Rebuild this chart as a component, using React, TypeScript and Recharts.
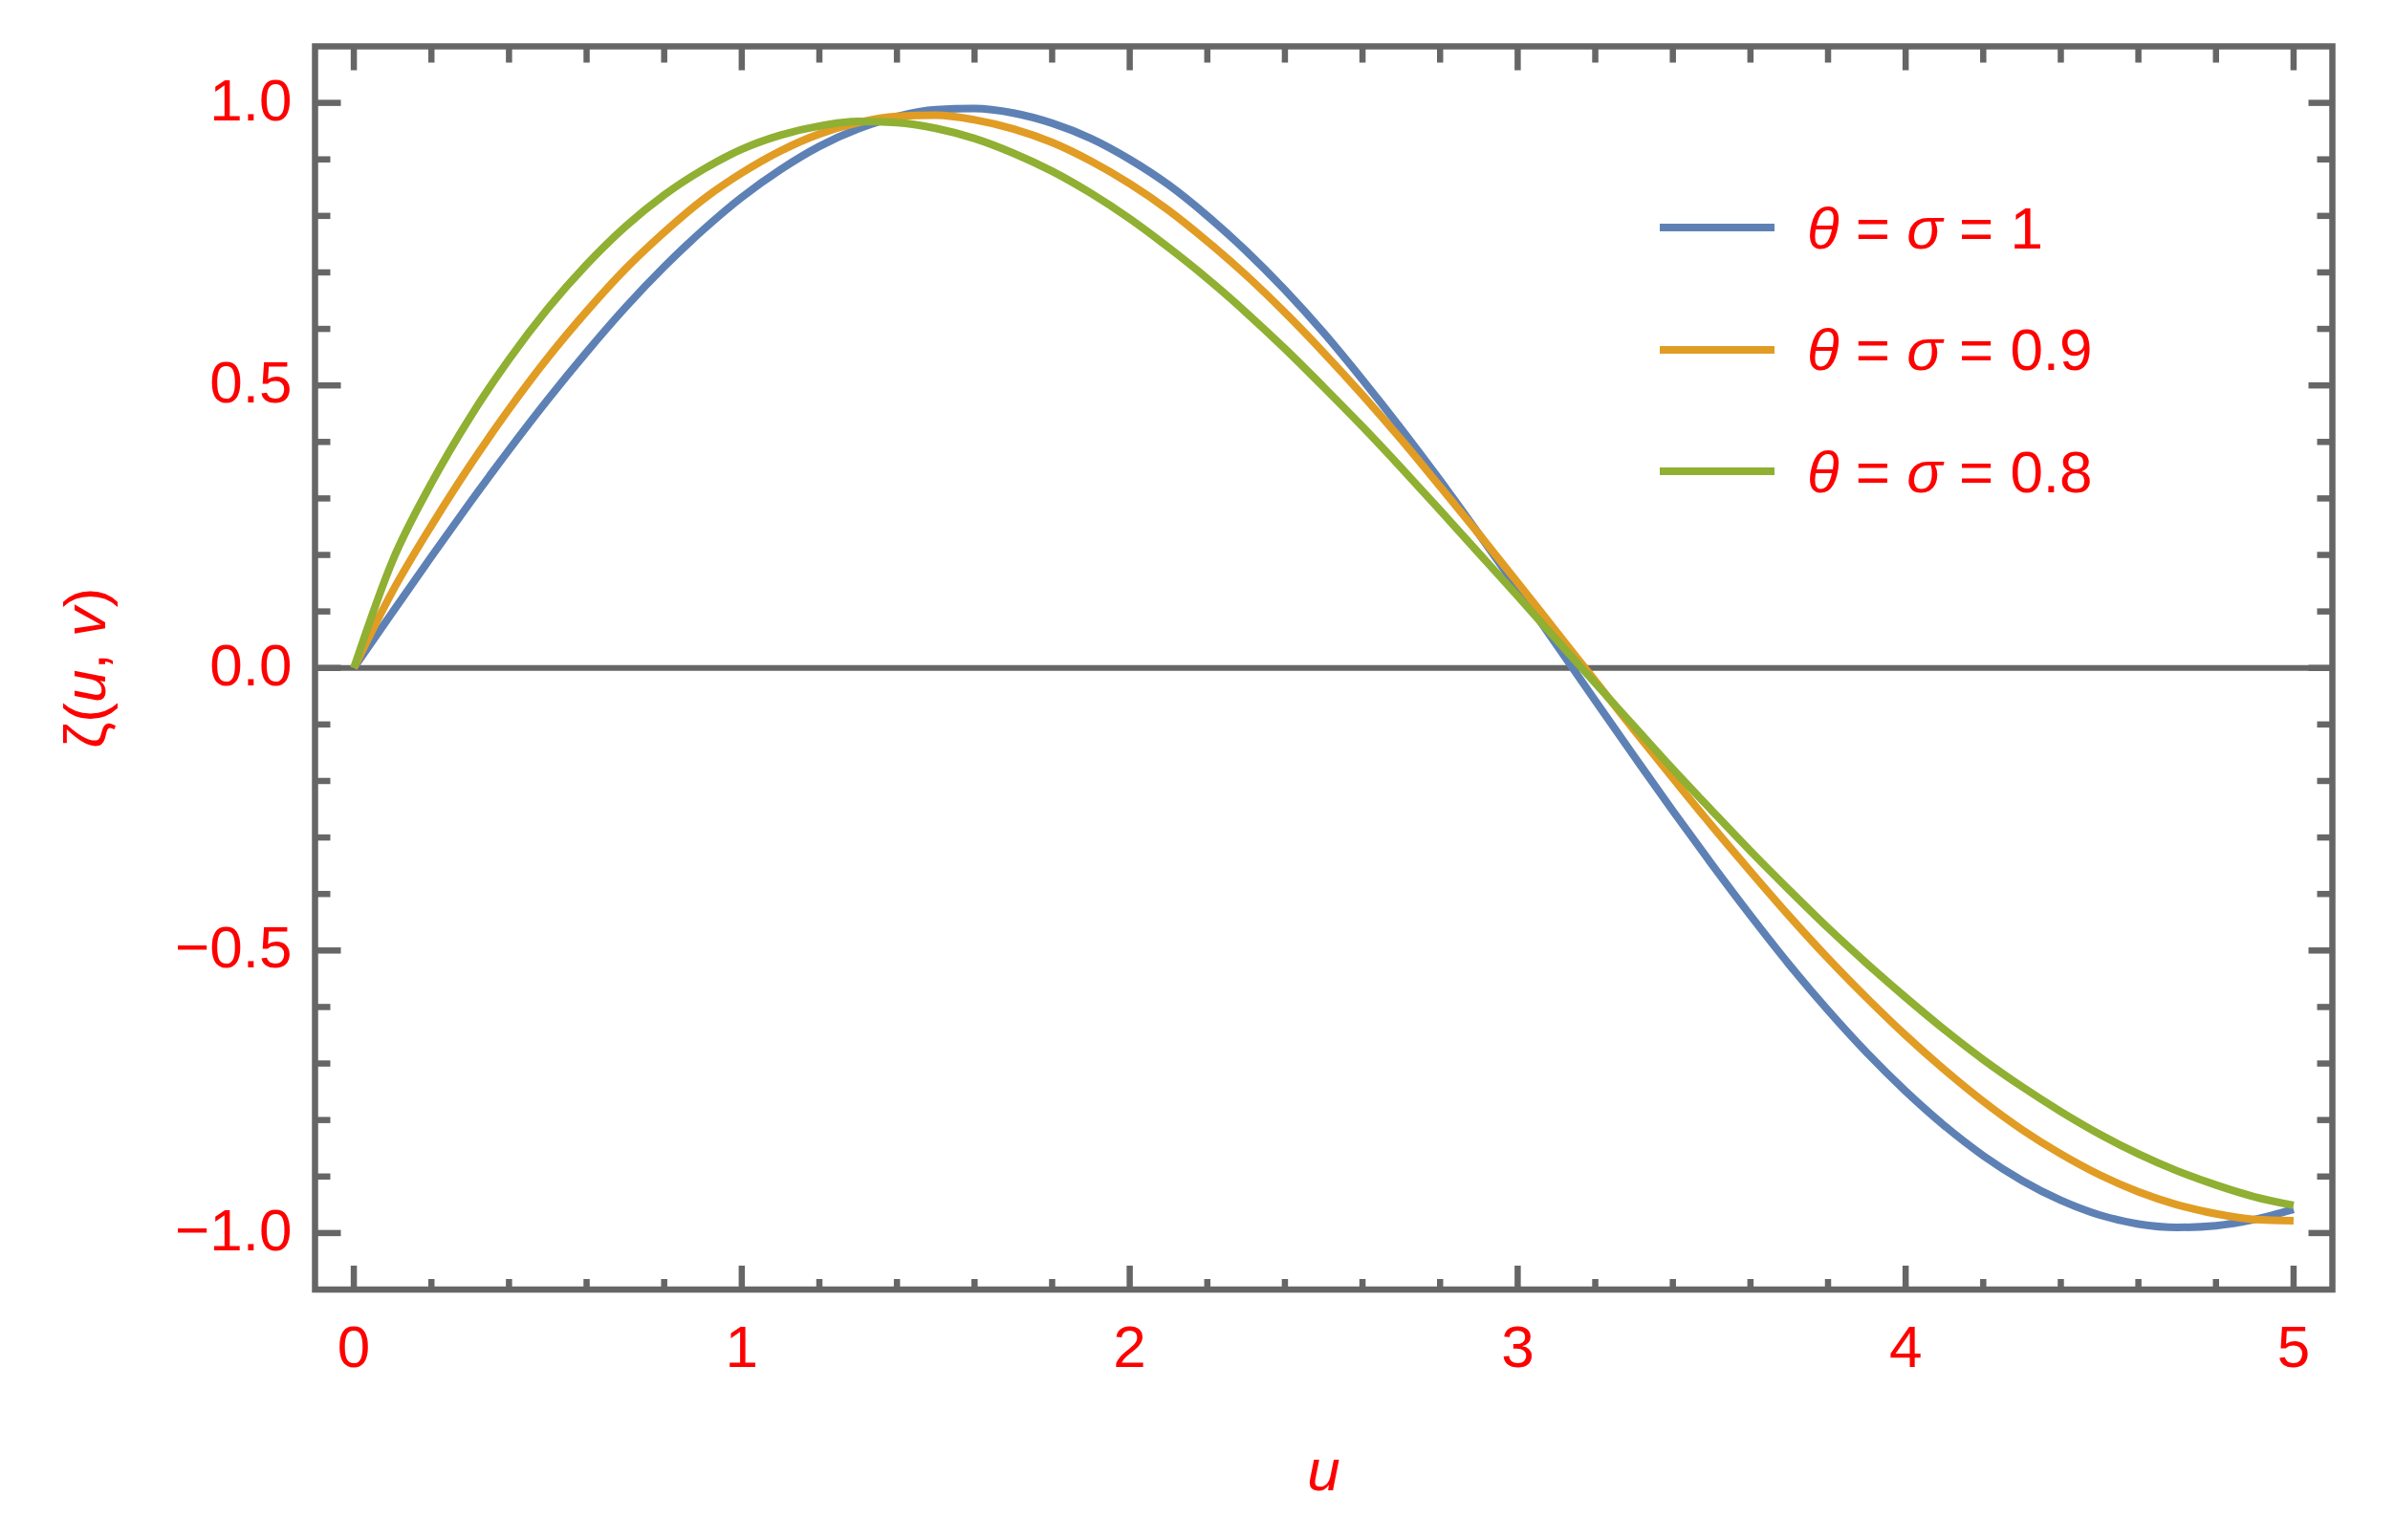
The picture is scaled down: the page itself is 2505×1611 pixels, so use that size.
import { LineChart, Line, XAxis, YAxis, ReferenceArea, ReferenceLine, Legend } from 'recharts';

// u grid (0 .. 5, step 0.1)
const uValues = [
  0, 0.1, 0.2, 0.3, 0.4, 0.5, 0.6, 0.7, 0.8, 0.9,
  1, 1.1, 1.2, 1.3, 1.4, 1.5, 1.6, 1.7, 1.8, 1.9,
  2, 2.1, 2.2, 2.3, 2.4, 2.5, 2.6, 2.7, 2.8, 2.9,
  3, 3.1, 3.2, 3.3, 3.4, 3.5, 3.6, 3.7, 3.8, 3.9,
  4, 4.1, 4.2, 4.3, 4.4, 4.5, 4.6, 4.7, 4.8, 4.9, 5,
];

// theta = sigma = 1
const zeta1 = [
  0, 0.099, 0.197, 0.293, 0.386, 0.475, 0.559, 0.638, 0.71, 0.775,
  0.833, 0.882, 0.923, 0.954, 0.976, 0.988, 0.99, 0.982, 0.964, 0.937,
  0.9, 0.855, 0.8, 0.738, 0.669, 0.593, 0.51, 0.423, 0.332, 0.237,
  0.14, 0.041, -0.058, -0.156, -0.253, -0.347, -0.438, -0.525, -0.606, -0.681,
  -0.749, -0.81, -0.863, -0.907, -0.942, -0.968, -0.984, -0.99, -0.987, -0.976, -0.958,
];

// theta = sigma = 0.9
const zeta09 = [
  0, 0.136, 0.252, 0.359, 0.458, 0.549, 0.631, 0.706, 0.771, 0.829,
  0.876, 0.915, 0.945, 0.965, 0.976, 0.978, 0.97, 0.954, 0.93, 0.897,
  0.857, 0.81, 0.755, 0.695, 0.629, 0.558, 0.483, 0.404, 0.321, 0.237,
  0.151, 0.064, -0.023, -0.11, -0.195, -0.279, -0.36, -0.439, -0.514, -0.584,
  -0.65, -0.711, -0.767, -0.817, -0.86, -0.897, -0.927, -0.95, -0.966, -0.976, -0.978,
];

// theta = sigma = 0.8
const zeta08 = [
  0, 0.19, 0.327, 0.444, 0.546, 0.636, 0.714, 0.781, 0.837, 0.882,
  0.918, 0.943, 0.959, 0.967, 0.965, 0.955, 0.937, 0.911, 0.879, 0.84,
  0.795, 0.744, 0.689, 0.629, 0.565, 0.497, 0.427, 0.354, 0.279, 0.203,
  0.127, 0.05, -0.027, -0.103, -0.179, -0.252, -0.324, -0.393, -0.46, -0.523,
  -0.583, -0.64, -0.693, -0.741, -0.785, -0.825, -0.86, -0.89, -0.915, -0.936, -0.951,
];

const params = ['1', '0.9', '0.8'];
const colors = ['#5e81b5', '#e19c24', '#8fb032'];

const xTicks = [
  0, 0.2, 0.4, 0.6, 0.8, 1, 1.2, 1.4, 1.6, 1.8, 2, 2.2, 2.4, 2.6, 2.8,
  3, 3.2, 3.4, 3.6, 3.8, 4, 4.2, 4.4, 4.6, 4.8, 5,
];
const yTicks = [
  -1, -0.9, -0.8, -0.7, -0.6, -0.5, -0.4, -0.3, -0.2, -0.1, 0,
  0.1, 0.2, 0.3, 0.4, 0.5, 0.6, 0.7, 0.8, 0.9, 1,
];

const data = uValues.map((u, i) => ({ u, a: zeta1[i], b: zeta09[i], c: zeta08[i] }));

const AXIS = '#666666';
const RED = '#ff0000';
const FONT = '"Liberation Sans", Arial, sans-serif';
const FS = 62;
const TW = 6.5;
const LW = 8;

const isMajorX = (v: number) => Math.abs(v - Math.round(v)) < 1e-9;
const isMajorY = (v: number) => Math.abs(v * 2 - Math.round(v * 2)) < 1e-9;
const fmtY = (v: number) => v.toFixed(1).replace('-', '\u2212');

function BottomTick({ x, y, payload }: any) {
  const v = payload.value;
  const major = isMajorX(v);
  return (
    <g>
      <line x1={x} x2={x} y1={y} y2={y - (major ? 25 : 11)} stroke={AXIS} strokeWidth={TW} />
      {major && (
        <text x={x} y={y + 81} textAnchor="middle" fill={RED} fontSize={FS} fontFamily={FONT}>
          {v}
        </text>
      )}
    </g>
  );
}

function TopTick({ x, y, payload }: any) {
  const major = isMajorX(payload.value);
  return <line x1={x} x2={x} y1={y} y2={y + (major ? 25 : 17)} stroke={AXIS} strokeWidth={TW} />;
}

function LeftTick({ x, y, payload }: any) {
  const v = payload.value;
  const major = isMajorY(v);
  return (
    <g>
      <line x1={x} x2={x + (major ? 27 : 16)} y1={y} y2={y} stroke={AXIS} strokeWidth={TW} />
      {major && (
        <text x={x - 24} y={y + 18} textAnchor="end" fill={RED} fontSize={FS} fontFamily={FONT}>
          {fmtY(v)}
        </text>
      )}
    </g>
  );
}

function RightTick({ x, y, payload }: any) {
  const major = isMajorY(payload.value);
  return <line x1={x} x2={x - (major ? 25 : 16)} y1={y} y2={y} stroke={AXIS} strokeWidth={TW} />;
}

function XTitle({ viewBox }: any) {
  const { x, y, width } = viewBox;
  return (
    <text x={x + width / 2} y={y + 210} textAnchor="middle" fill={RED} fontSize={FS} fontFamily={FONT} fontStyle="italic">
      u
    </text>
  );
}

function YTitle({ viewBox }: any) {
  const { x, y, width, height } = viewBox;
  const cx = x + width - 220;
  const cy = y + height / 2;
  return (
    <text x={cx} y={cy} textAnchor="middle" fill={RED} fontSize={FS} fontFamily={FONT} transform={`rotate(-90 ${cx} ${cy})`}>
      ζ(<tspan fontStyle="italic">u</tspan>, <tspan fontStyle="italic">v</tspan>)
    </text>
  );
}

function LegendBox() {
  return (
    <div style={{ fontFamily: FONT }}>
      {params.map((p, i) => (
        <div key={p} style={{ display: 'flex', alignItems: 'center', height: 127.5 }}>
          <svg width={120} height={20} style={{ display: 'block' }}>
            <line x1={0} y1={10} x2={120} y2={10} stroke={colors[i]} strokeWidth={LW} />
          </svg>
          <span style={{ marginLeft: 34, color: RED, fontSize: FS, whiteSpace: 'nowrap', lineHeight: 1.15 }}>
            <i>θ</i> = <i>σ</i> = {p}
          </span>
        </div>
      ))}
    </div>
  );
}

export default function App() {
  return (
    <div style={{ position: 'absolute', left: 0, top: 0, background: '#fff', fontFamily: FONT }}>
      <LineChart
        width={2505}
        height={1611}
        data={data}
        margin={{ top: 47.5, right: 64.5, bottom: 261, left: 328.5 }}
      >
        <XAxis
          dataKey="u"
          type="number"
          domain={[-0.1, 5.1]}
          allowDataOverflow
          ticks={xTicks}
          interval={0}
          height={1}
          axisLine={false}
          tickLine={false}
          tickSize={0}
          tickMargin={0}
          tick={<BottomTick />}
          label={(props: any) => <XTitle {...props} />}
        />
        <XAxis
          xAxisId="top"
          orientation="top"
          dataKey="u"
          type="number"
          domain={[-0.1, 5.1]}
          allowDataOverflow
          ticks={xTicks}
          interval={0}
          height={1}
          axisLine={false}
          tickLine={false}
          tickSize={0}
          tickMargin={0}
          tick={<TopTick />}
        />
        <YAxis
          type="number"
          domain={[-1.1, 1.1]}
          allowDataOverflow
          ticks={yTicks}
          interval={0}
          width={1}
          axisLine={false}
          tickLine={false}
          tickSize={0}
          tickMargin={0}
          tick={<LeftTick />}
          label={(props: any) => <YTitle {...props} />}
        />
        <YAxis
          yAxisId="right"
          orientation="right"
          type="number"
          domain={[-1.1, 1.1]}
          allowDataOverflow
          ticks={yTicks}
          interval={0}
          width={1}
          axisLine={false}
          tickLine={false}
          tickSize={0}
          tickMargin={0}
          tick={<RightTick />}
        />
        <ReferenceLine y={0} stroke={AXIS} strokeWidth={6} />
        <Line type="monotone" dataKey="a" name={params[0]} stroke={colors[0]} strokeWidth={LW} dot={false} activeDot={false} isAnimationActive={false} />
        <Line type="monotone" dataKey="b" name={params[1]} stroke={colors[1]} strokeWidth={LW} dot={false} activeDot={false} isAnimationActive={false} />
        <Line type="monotone" dataKey="c" name={params[2]} stroke={colors[2]} strokeWidth={LW} dot={false} activeDot={false} isAnimationActive={false} />
        <ReferenceArea x1={-0.1} x2={5.1} y1={-1.1} y2={1.1} fill="none" fillOpacity={0} stroke={AXIS} strokeWidth={6.5} />
        <Legend
          layout="vertical"
          align="center"
          verticalAlign="middle"
          content={() => <LegendBox />}
          wrapperStyle={{ left: 1736, top: 174.5, width: 700 }}
        />
      </LineChart>
    </div>
  );
}
